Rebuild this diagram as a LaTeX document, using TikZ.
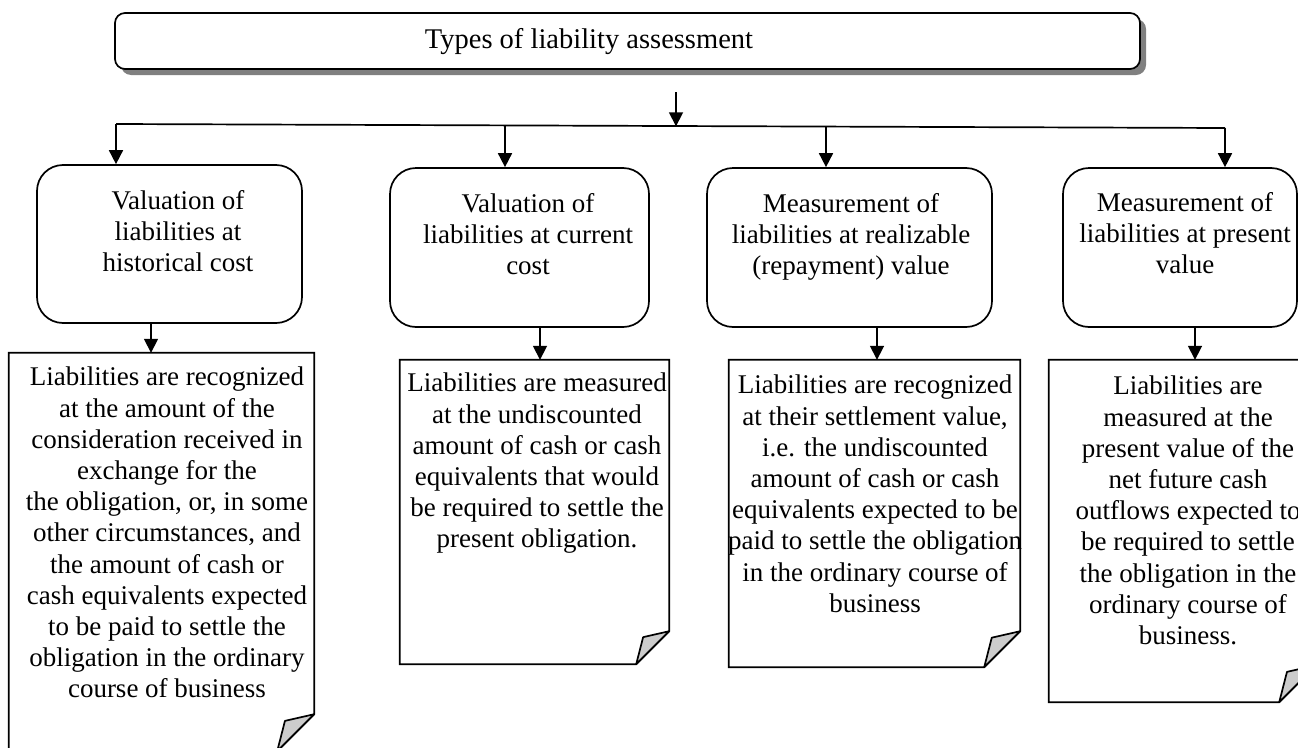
\documentclass[tikz,border=0pt]{standalone}
\usepackage{fontspec}
\setmainfont{Liberation Serif}
\usetikzlibrary{arrows.meta,shadows}
\newcommand{\foldnote}[2]{%
  \draw[noteline] (#1.north west) -- (#1.north east) -- ([yshift=#2]#1.south east)
    -- ([xshift=-#2]#1.south east) -- (#1.south west) -- cycle;
  \filldraw[curl] ([xshift=-#2]#1.south east) -- ([xshift={-0.79*#2},yshift={0.82*#2}]#1.south east)
    -- ([yshift=#2]#1.south east) -- cycle;}
\begin{document}
\begin{tikzpicture}[x=1pt,y=-1pt,
  lw/.style={line width=1.7pt},
  arr/.style={lw,-{Triangle[length=14pt,width=14pt]}},
  topbox/.style={draw,lw,fill=white,rounded corners=10pt,
    drop shadow={shadow xshift=6pt,shadow yshift=-6pt,fill=black!50,opacity=1}},
  stagebox/.style={draw,lw,rounded corners=26pt,inner sep=0pt},
  notebox/.style={inner sep=0pt},
  noteline/.style={lw,fill=white},
  curl/.style={lw,fill=black!20,line join=round},
  txt/.style={font=\fontsize{27}{31.2}\selectfont,align=center,inner sep=0pt,anchor=north}]
\useasboundingbox (0,0) rectangle (1298,747);
\clip (0,0) rectangle (1298,747);
% title
\node[topbox,minimum width=1025pt,minimum height=56pt] (top) at (627.5,41) {};
\node[txt,anchor=center,font=\fontsize{28.5}{32}\selectfont] (title) at (589,42) {Types of liability assessment};
% bus
\coordinate (tstart) at (676,92);
\coordinate (bus) at (676,126.3);
\coordinate (busL) at (116,124);
\coordinate (b2) at (505,125.4);
\coordinate (b3) at (826,126.6);
\coordinate (busR) at (1225,128);
\draw[arr] (tstart) -- (bus);
\draw[lw] (busL) -- (busR);
% stage boxes
\node[stagebox,minimum width=265pt,minimum height=158pt] (B1) at (169.5,244) {};
\node[stagebox,minimum width=259pt,minimum height=159pt] (B2) at (519.5,247.5) {};
\node[stagebox,minimum width=285pt,minimum height=159pt] (B3) at (849.5,247.5) {};
\node[stagebox,minimum width=234pt,minimum height=159pt] (B4) at (1180,247.5) {};
\node[txt] (T1) at (178,190) {Valuation of\\liabilities at\\historical cost};
\node[txt] (T2) at (528,193) {Valuation of\\liabilities at current\\cost};
\node[txt] (T3) at (851,193) {Measurement of\\liabilities at realizable\\(repayment) value};
\node[txt] (T4) at (1185,192) {Measurement of\\liabilities at present\\value};
\draw[arr] (busL) -- (busL |- B1.north);
\draw[arr] (b2) -- (b2 |- B2.north);
\draw[arr] (b3) -- (b3 |- B3.north);
\draw[arr] (busR) -- (busR |- B4.north);
% notes
\node[notebox,minimum width=305pt,minimum height=398pt] (N1) at (161.5,552) {};
\node[notebox,minimum width=269pt,minimum height=304pt] (N2) at (534.5,512) {};
\node[notebox,minimum width=291pt,minimum height=307pt] (N3) at (874.5,513.5) {};
\node[notebox,minimum width=267pt,minimum height=342pt] (N4) at (1182.5,531) {};
\foldnote{N1}{37pt}
\foldnote{N2}{33pt}
\foldnote{N3}{36pt}
\foldnote{N4}{37pt}
\node[txt] (U1) at (167,367) {Liabilities are recognized\\at the amount of the\\consideration received in\\exchange for the\\the obligation, or, in some\\other circumstances, and\\the amount of cash or\\cash equivalents expected\\to be paid to settle the\\obligation in the ordinary\\course of business};
\node[txt] (U2) at (537,373) {Liabilities are measured\\at the undiscounted\\amount of cash or cash\\equivalents that would\\be required to settle the\\present obligation.};
\node[txt] (U3) at (875,375) {Liabilities are recognized\\at their settlement value,\\i.e. the undiscounted\\amount of cash or cash\\equivalents expected to be\\paid to settle the obligation\\in the ordinary course of\\business};
\node[txt] (U4) at (1188,376) {Liabilities are\\measured at the\\present value of the\\net future cash\\outflows expected to\\be required to settle\\the obligation in the\\ordinary course of\\business.};
% arrows boxes -> notes
\coordinate (a1) at (151,0);
\coordinate (a2) at (540,0);
\coordinate (a3) at (877,0);
\coordinate (a4) at (1195,0);
\draw[arr] (a1 |- B1.south) -- (a1 |- N1.north);
\draw[arr] (a2 |- B2.south) -- (a2 |- N2.north);
\draw[arr] (a3 |- B3.south) -- (a3 |- N3.north);
\draw[arr] (a4 |- B4.south) -- (a4 |- N4.north);
\end{tikzpicture}
\end{document}
